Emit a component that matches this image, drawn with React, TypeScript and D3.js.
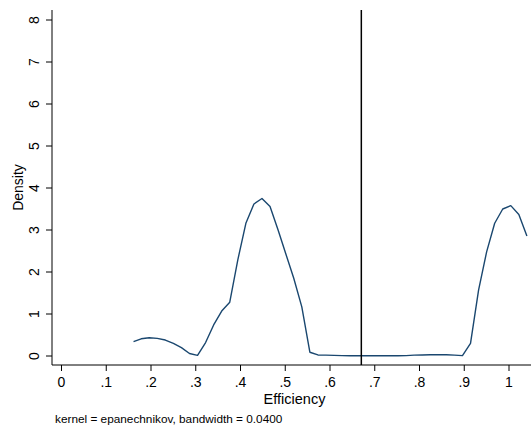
import React, { useRef, useEffect } from "react";
import * as d3 from "d3";

// evaluation points of the kernel density estimate
const efficiency = [
  0.161, 0.178, 0.196, 0.214, 0.232, 0.25, 0.268, 0.286, 0.304, 0.322,
  0.34, 0.358, 0.376, 0.394, 0.412, 0.43, 0.448, 0.466, 0.484, 0.501,
  0.519, 0.537, 0.555, 0.573, 0.591, 0.609, 0.627, 0.645, 0.663, 0.681,
  0.699, 0.717, 0.735, 0.752, 0.77, 0.788, 0.806, 0.824, 0.842, 0.86,
  0.878, 0.896, 0.914, 0.932, 0.95, 0.968, 0.986, 1.004, 1.022, 1.04,
];
const density = [
  0.34, 0.41, 0.435, 0.42, 0.38, 0.3, 0.2, 0.06, 0.015, 0.32,
  0.74, 1.07, 1.28, 2.29, 3.16, 3.62, 3.75, 3.56, 3.0, 2.44,
  1.85, 1.17, 0.09, 0.025, 0.02, 0.015, 0.008, 0.005, 0.005, 0.005,
  0.005, 0.005, 0.005, 0.006, 0.01, 0.02, 0.025, 0.03, 0.03, 0.028,
  0.02, 0.01, 0.3, 1.57, 2.48, 3.16, 3.5, 3.58, 3.37, 2.86,
];
const xTicks = [0, 0.1, 0.2, 0.3, 0.4, 0.5, 0.6, 0.7, 0.8, 0.9, 1];
const xTickLabels = ["0", ".1", ".2", ".3", ".4", ".5", ".6", ".7", ".8", ".9", "1"];
const yTicks = [0, 1, 2, 3, 4, 5, 6, 7, 8];
const cutoff = 0.67;
const note = "kernel = epanechnikov, bandwidth = 0.0400";

const W = 531;
const H = 431;
const FONT = "'Liberation Sans', Arial, Helvetica, sans-serif";

const DensityPlot = () => {
  const ref = useRef<SVGSVGElement>(null);

  useEffect(() => {
    const svg = d3.select(ref.current);
    svg.selectAll("*").remove();

    // plot region edges
    const left = 52;
    const right = 531;
    const top = 10;
    const bottom = 365;

    const x = d3.scaleLinear().domain([0, 1]).range([61.5, 509]);
    const y = d3.scaleLinear().domain([0, 8]).range([356, 20]);

    svg.append("rect").attr("width", W).attr("height", H).attr("fill", "white");

    // y axis
    svg.append("line")
      .attr("x1", left).attr("x2", left)
      .attr("y1", top).attr("y2", bottom)
      .attr("stroke", "#000").attr("stroke-width", 1);
    yTicks.forEach((t) => {
      svg.append("line")
        .attr("x1", left - 6).attr("x2", left)
        .attr("y1", y(t)).attr("y2", y(t))
        .attr("stroke", "#000").attr("stroke-width", 1);
      svg.append("text")
        .attr("transform", `translate(${left - 13},${y(t)}) rotate(-90)`)
        .attr("text-anchor", "middle")
        .attr("font-family", FONT)
        .attr("font-size", 14)
        .text(t);
    });
    svg.append("text")
      .attr("transform", `translate(23,${(top + bottom) / 2}) rotate(-90)`)
      .attr("text-anchor", "middle")
      .attr("font-family", FONT)
      .attr("font-size", 14)
      .text("Density");

    // x axis
    svg.append("line")
      .attr("x1", left).attr("x2", right)
      .attr("y1", bottom).attr("y2", bottom)
      .attr("stroke", "#000").attr("stroke-width", 1);
    xTicks.forEach((t, i) => {
      svg.append("line")
        .attr("x1", x(t)).attr("x2", x(t))
        .attr("y1", bottom).attr("y2", bottom + 6)
        .attr("stroke", "#000").attr("stroke-width", 1);
      svg.append("text")
        .attr("x", x(t)).attr("y", bottom + 22)
        .attr("text-anchor", "middle")
        .attr("font-family", FONT)
        .attr("font-size", 14)
        .text(xTickLabels[i]);
    });
    svg.append("text")
      .attr("x", (left + right) / 2 + 3).attr("y", 404)
      .attr("text-anchor", "middle")
      .attr("font-family", FONT)
      .attr("font-size", 14.5)
      .text("Efficiency");

    // density curve
    const line = d3.line<number>()
      .x((_, i) => x(efficiency[i]))
      .y((d) => y(d));
    svg.append("path")
      .datum(density)
      .attr("d", line)
      .attr("fill", "none")
      .attr("stroke", "#1a476f")
      .attr("stroke-width", 1.4)
      .attr("stroke-linejoin", "round");

    // reference line
    svg.append("line")
      .attr("x1", x(cutoff)).attr("x2", x(cutoff))
      .attr("y1", top).attr("y2", bottom)
      .attr("stroke", "#000").attr("stroke-width", 1.5);

    svg.append("text")
      .attr("x", 55).attr("y", 423)
      .attr("font-family", FONT)
      .attr("font-size", 11.8)
      .text(note);
  }, []);

  return (
    <svg
      ref={ref}
      width={W}
      height={H}
      style={{ position: "absolute", left: 0, top: 0 }}
    ></svg>
  );
};

export default function App() {
  return <DensityPlot />;
}
